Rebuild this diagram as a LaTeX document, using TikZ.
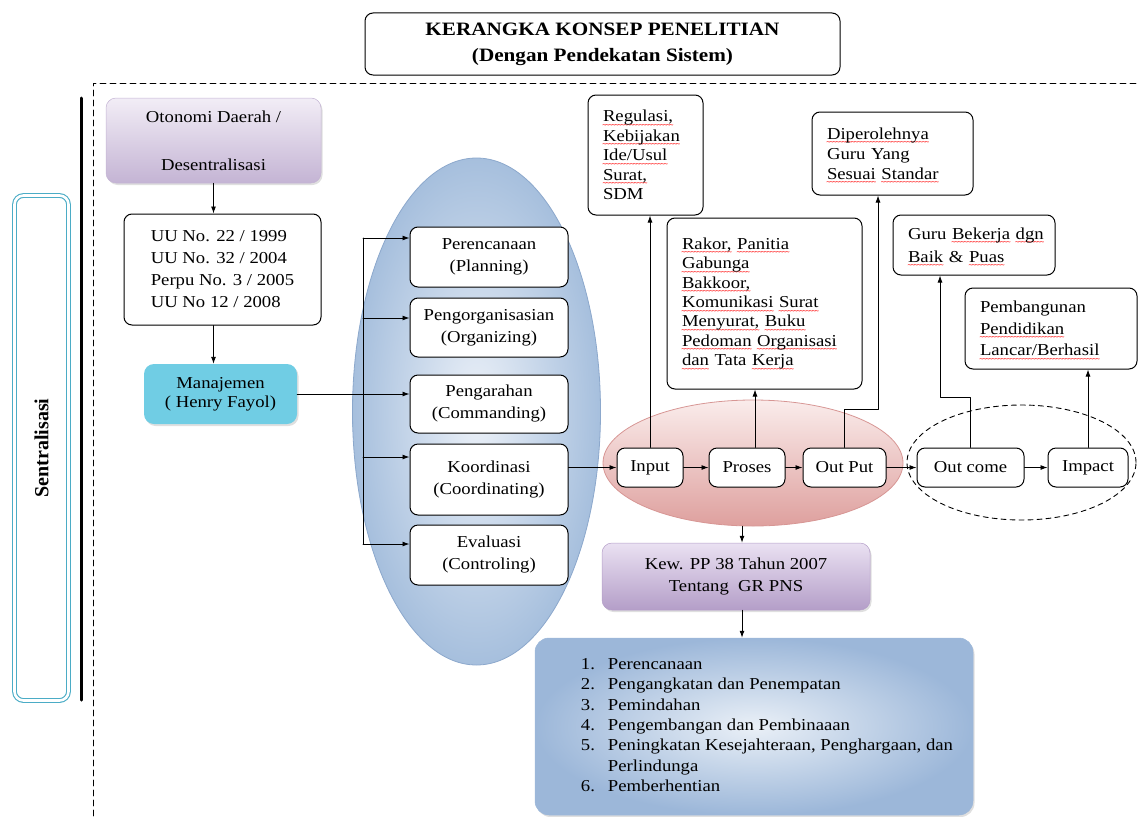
\documentclass[tikz,border=0pt]{standalone}
\usepackage{fontspec}
\setmainfont{Liberation Serif}[FakeStretch=1.12]
\newfontfamily\sentfont{Liberation Serif}
\newfontfamily\wavefont{DejaVu Sans Mono}
\usetikzlibrary{arrows.meta,calc,shapes.geometric,shadows}

\definecolor{aqua}{RGB}{75,172,198}
\definecolor{mancyan}{RGB}{112,205,228}
\definecolor{lavtop}{RGB}{242,237,246}
\definecolor{lavbot}{RGB}{196,180,212}
\definecolor{kewtop}{RGB}{234,225,242}
\definecolor{kewbot}{RGB}{180,158,200}
\definecolor{ellin}{RGB}{236,241,248}
\definecolor{ellout}{RGB}{166,191,221}
\definecolor{ellblue}{RGB}{140,168,204}
\definecolor{pinktop}{RGB}{250,236,235}
\definecolor{pinkbot}{RGB}{222,160,158}
\definecolor{pinkline}{RGB}{215,150,148}
\definecolor{listin}{RGB}{234,240,247}
\definecolor{listout}{RGB}{156,183,217}

% red spell-check wave under a word
\newsavebox\sqbox
\newcommand\sq[1]{\leavevmode\sbox\sqbox{#1}\rlap{\raisebox{-5.5pt}[0pt][0pt]{\hbox to \wd\sqbox{\color{red}\wavefont\fontsize{7}{7}\selectfont
			\xleaders\hbox{\kern-0.6pt\char"7E\kern-0.6pt}\hfill}}}\usebox\sqbox}

\begin{document}
\begin{tikzpicture}[
		x=1pt, y=-1pt,
		line cap=round, line join=round,
		>=Latex,
		txt/.style={font=\fontsize{16.7}{22}\selectfont},
		box/.style={txt, draw, fill=white, rounded corners=8pt, line width=1pt, align=center, inner sep=0pt},
		note/.style={box, align=left, inner xsep=15pt, inner ysep=0pt, font=\fontsize{16.7}{19.4}\selectfont},
		flow/.style={box, minimum height=39},
		fungsibox/.style={box, minimum width=158},
		soft/.style={txt, align=center, inner sep=0pt, rounded corners=10pt,
			drop shadow={opacity=0.25, shadow xshift=1.5pt, shadow yshift=-2pt}},
		arr/.style={-{Latex[length=7pt,width=5pt]}, line width=0.9pt},
		]
		\useasboundingbox (0,0) rectangle (1139,816);
		
		% ---------- Frame ----------
		\draw[line width=0.9pt, dash pattern=on 6pt off 4pt] (93,816) -- (93,83) -- (1139,83);
		\draw[line width=3pt] (81,98) -- (81,700);
		
		\node[box, font=\bfseries\fontsize{18.9}{26}\selectfont, minimum width=475, minimum height=62] (title) at (602.5,44)
		{KERANGKA KONSEP PENELITIAN\\(Dengan Pendekatan Sistem)};
		
		\node[draw=aqua, double=white, double distance=2.6pt, line width=1.1pt, rounded corners=9pt, rotate=90,
		minimum width=505, minimum height=54, font=\sentfont\bfseries\fontsize{20}{24}\selectfont] (sent) at (41.5,448) {Sentralisasi};
		
		% ---------- Left column ----------
		\node[soft, top color=lavtop, bottom color=lavbot, draw=lavbot, line width=0.5pt, minimum width=215, minimum height=85] (oto) at (213.5,140.5)
		{Otonomi Daerah /\\[26pt]Desentralisasi};
		\node[box, align=left, minimum width=197, minimum height=111] (uu) at (222.5,269.5)
		{UU No. 22 / 1999\\UU No. 32 / 2004\\Perpu No. 3 / 2005\\UU No 12 / 2008};
		\node[soft, fill=mancyan, minimum width=153, minimum height=60, font=\fontsize{16.7}{19}\selectfont] (man) at (220.5,394)
		{Manajemen\\( Henry Fayol)};
		
		\draw[arr] (oto.south) -- (oto.south |- uu.north);
		\draw[arr] (uu.south -| oto.south) -- (oto.south |- man.north);
		
		% ---------- Management functions ----------
		\node[ellipse, draw=ellblue, line width=0.8pt, inner color=ellin, outer color=ellout, minimum width=248, minimum height=507] (fungsi) at (476.5,411.5) {};
		
		\node[fungsibox, minimum height=60] (plan) at (489,257) {Perencanaan\\(Planning)};
		\node[fungsibox, minimum height=59] (org) at (489,327.5) {Pengorganisasian\\(Organizing)};
		\node[fungsibox, minimum height=58] (cmd) at (489,404) {Pengarahan\\(Commanding)};
		\node[fungsibox, minimum height=71] (coord) at (489,479.5) {Koordinasi\\(Coordinating)};
		\node[fungsibox, minimum height=60] (ctrl) at (489,555) {Evaluasi\\(Controling)};
		
		\coordinate (trunktop) at (363,238);
		\coordinate (trunkbot) at (363,544);
		\draw[line width=0.9pt] (trunktop) -- (trunkbot);
		\draw[arr] (trunktop) -- (trunktop -| plan.west);
		\draw[arr] ([yshift=9.5pt]org.west -| trunktop) -- ([yshift=9.5pt]org.west);
		\draw[arr] ([yshift=22.5pt]coord.west -| trunktop) -- ([yshift=22.5pt]coord.west);
		\draw[arr] (trunkbot) -- (trunkbot -| ctrl.west);
		\draw[arr] (man.east) -- (man.east -| cmd.west);
		
		% ---------- System: input to impact ----------
		\node[ellipse, draw=pinkline, line width=0.8pt, top color=pinktop, bottom color=pinkbot, minimum width=300, minimum height=126] (sistem) at (753,463) {};
		\node[ellipse, draw, line width=0.9pt, dash pattern=on 5pt off 4pt, minimum width=229, minimum height=115] (hasil) at (1021.5,462.5) {};
		
		\node[flow, minimum width=66] (input) at (650,467.5) {Input};
		\node[flow, minimum width=76] (proses) at (747,467.5) {Proses};
		\node[flow, minimum width=83] (output) at (844.5,467.5) {Out Put};
		\node[flow, minimum width=107] (outcome) at (970.5,467.5) {Out come};
		\node[flow, minimum width=80] (impact) at (1088,467.5) {Impact};
		
		\draw[arr] (coord.east |- input.west) -- (input.west);
		\draw[arr] (input.east) -- (proses.west);
		\draw[arr] (proses.east) -- (output.west);
		\draw[arr] (output.east) -- (outcome.west);
		\draw[arr] (outcome.east) -- (impact.west);
		
		% ---------- Notes above ----------
		\node[note, text width=85, minimum height=120] (reg) at (645.5,155)
		{\sq{Regulasi,}\\\sq{Kebijakan}\\\sq{Ide/Usul}\\\sq{Surat,}\\SDM};
		\node[note, text width=165, minimum height=171] (rakor) at (764.5,303.5)
		{\sq{Rakor,} \sq{Panitia}\\\sq{Gabunga}\\\sq{Bakkoor,}\\\mbox{\sq{Komunikasi} \sq{Surat}}\\\mbox{\sq{Menyurat,} \sq{Buku}}\\\mbox{\sq{Pedoman} \sq{Organisasi}}\\\sq{dan} Tata \sq{Kerja}};
		\node[note, text width=131, minimum height=83, font=\fontsize{16.7}{20}\selectfont] (dip) at (892.5,153.5)
		{\sq{Diperolehnya}\\Guru Yang\\\mbox{\sq{Sesuai} \sq{Standar}}};
		\node[note, text width=132, minimum height=60, font=\fontsize{16.7}{23}\selectfont] (guru) at (974,245)
		{\mbox{Guru \sq{Bekerja} \sq{dgn}}\\\sq{Baik} \& \sq{Puas}};
		\node[note, text width=142, minimum height=81, font=\fontsize{16.7}{21.5}\selectfont] (pem) at (1051,328.5)
		{Pembangunan\\\sq{Pendidikan}\\\sq{Lancar/Berhasil}};
		
		\draw[arr] (input.north) -- (input.north |- reg.south);
		\draw[arr] ([xshift=8pt]proses.north) -- ([xshift=8pt]proses.north |- rakor.south);
		\draw[arr] (output.north) -- ++(0,-38) -| ([xshift=-14.5pt]dip.south);
		\draw[arr] (outcome.north) -- ++(0,-50) -| ([xshift=-34pt]guru.south);
		\draw[arr] (impact.north) -- (impact.north |- pem.south);
		
		% ---------- Regulation and its scope ----------
		\node[soft, top color=kewtop, bottom color=kewbot, draw=kewbot, line width=0.5pt, minimum width=268, minimum height=67, font=\fontsize{16.7}{21}\selectfont] (kew) at (736,576.5)
		{Kew. PP 38 Tahun 2007\\Tentang\ \ GR PNS};
		\node[soft, rounded corners=14pt, inner color=listin, outer color=listout, draw=listout, line width=0.5pt, minimum width=438, minimum height=177, font=\fontsize{16.7}{20.3}\selectfont] (tugas) at (754,726.5)
		{\begin{tabular}{@{\hspace{26pt}}p{27pt}@{}l@{}}
				1. & Perencanaan\\
				2. & Pengangkatan dan Penempatan\\
				3. & Pemindahan\\
				4. & Pengembangan dan Pembinaaan\\
				5. & Peningkatan Kesejahteraan, Penghargaan, dan\\
				& Perlindunga\\
				6. & Pemberhentian
		\end{tabular}};
		
		\draw[arr] ([xshift=6pt]kew.north |- sistem.south) -- ([xshift=6pt]kew.north);
		\draw[arr] ([xshift=6pt]kew.south) -- ([xshift=6pt]kew.south |- tugas.north);
		
	\end{tikzpicture}
\end{document}
